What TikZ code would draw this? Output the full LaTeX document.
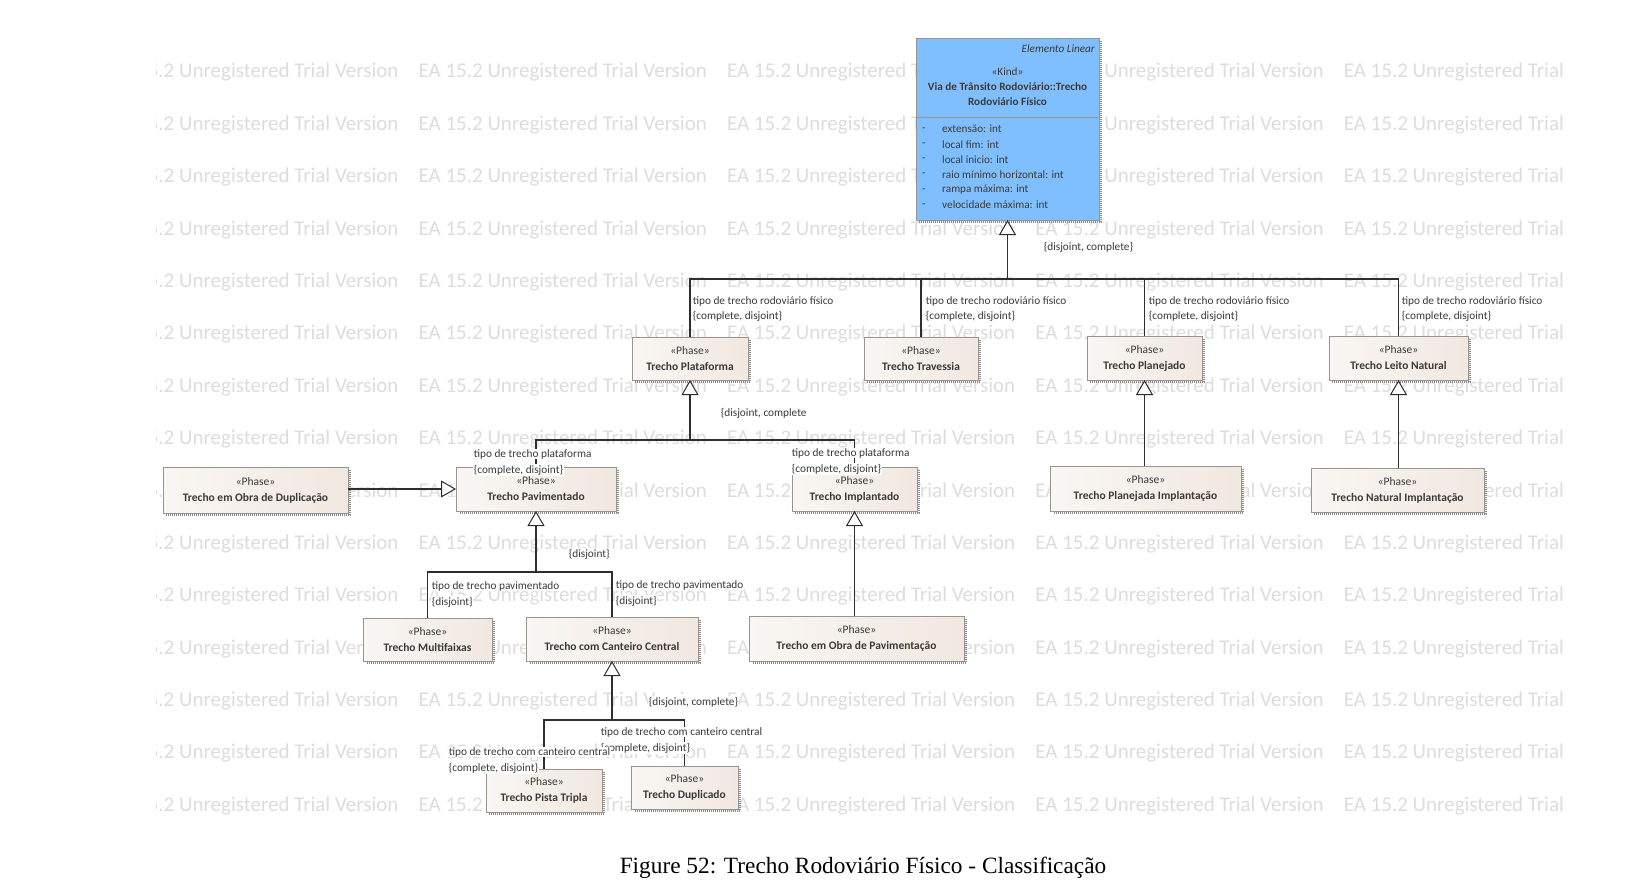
\documentclass[tikz,border=0pt]{standalone}
\usepackage{fontspec}
\setmainfont{Carlito}
\newfontfamily\capfont{Liberation Serif}
\usetikzlibrary{arrows.meta,calc}

\definecolor{kindblue}{HTML}{80BFFF}
\definecolor{phaseA}{HTML}{F9F6F3}
\definecolor{phaseB}{HTML}{F1E8E0}
\definecolor{boxline}{HTML}{9A9490}
\definecolor{ink}{HTML}{3A3A3A}
\definecolor{wire}{HTML}{2E2E2E}
\definecolor{wmark}{HTML}{DDDDDD}

\tikzset{
  wm/.style={anchor=west, inner sep=0pt, text=wmark, font=\fontsize{21}{21}\selectfont},
  phasebox/.style={draw=boxline, line width=0.8pt, left color=phaseA, right color=phaseB,
    inner sep=0pt, outer sep=0pt, align=center, text=ink,
    font=\fontsize{11.5}{16}\selectfont},
  kindbox/.style={draw=boxline, line width=0.8pt, fill=kindblue, inner sep=0pt, outer sep=0pt},
  boxshadow/.style={draw=black!45, line width=2.5pt, dash pattern=on 1pt off 1pt},
  wireline/.style={draw=wire, line width=1.2pt},
  gen/.style={wireline, -{Triangle[length=15pt,width=17pt,fill=white,line width=1pt]}},
  lbl/.style={anchor=west, fill=white, inner sep=0.6pt, text=ink, font=\fontsize{11.3}{11.3}\selectfont},
  kindtxt/.style={inner sep=0pt, text=ink, font=\fontsize{11.2}{15}\selectfont},
}

\begin{document}
\begin{tikzpicture}[x=1pt,y=-1pt]
\useasboundingbox[fill=white] (0,0) rectangle (1652,888);

% background watermark band
\begin{scope}
  \clip (156,40) rectangle (1567,825);
  \foreach \r in {0,...,14} {
    \foreach \c in {0,...,4} {
      \node[wm] (wm-\r-\c) at ({110+308.4*\c},{72.5+52.38*\r}) {EA 15.2 Unregistered Trial Version};
    }
  }
\end{scope}

% classes
\node[kindbox, minimum width=183pt, minimum height=182pt] (main) at (1007.5,129) {};
\node[phasebox, minimum width=116pt, minimum height=43pt] (plat)  at (690,358.5)  {«Phase»\\\textbf{Trecho Plataforma}};
\node[phasebox, minimum width=114pt, minimum height=43pt] (trav)  at (921,358.5)  {«Phase»\\\textbf{Trecho Travessia}};
\node[phasebox, minimum width=115pt, minimum height=44pt] (plan)  at (1144.5,358) {«Phase»\\\textbf{Trecho Planejado}};
\node[phasebox, minimum width=139pt, minimum height=44pt] (leito) at (1398.5,358) {«Phase»\\\textbf{Trecho Leito Natural}};
\node[phasebox, minimum width=185pt, minimum height=46pt] (dup)   at (255.5,490)  {«Phase»\\\textbf{Trecho em Obra de Duplicação}};
\node[phasebox, minimum width=160pt, minimum height=44pt] (pav)   at (536,489)    {«Phase»\\\textbf{Trecho Pavimentado}};
\node[phasebox, minimum width=125pt, minimum height=44pt] (impl)  at (854.5,489)  {«Phase»\\\textbf{Trecho Implantado}};
\node[phasebox, minimum width=191pt, minimum height=45pt] (planimp) at (1145.5,488.5) {«Phase»\\\textbf{Trecho Planejada Implantação}};
\node[phasebox, minimum width=173pt, minimum height=44pt] (natimp)  at (1397.5,490)   {«Phase»\\\textbf{Trecho Natural Implantação}};
\node[phasebox, minimum width=129pt, minimum height=43pt] (multi)  at (427.5,639.5) {«Phase»\\\textbf{Trecho Multifaixas}};
\node[phasebox, minimum width=172pt, minimum height=44pt] (cant)   at (612,639)     {«Phase»\\\textbf{Trecho com Canteiro Central}};
\node[phasebox, minimum width=215pt, minimum height=45pt] (obpav)  at (856.5,638.5) {«Phase»\\\textbf{Trecho em Obra de Pavimentação}};
\node[phasebox, minimum width=116pt, minimum height=43pt] (tripla) at (544,790.5)   {«Phase»\\\textbf{Trecho Pista Tripla}};
\node[phasebox, minimum width=107pt, minimum height=43pt] (duplic) at (684.5,787.5) {«Phase»\\\textbf{Trecho Duplicado}};

% drop shadows
\foreach \n in {main,plat,trav,plan,leito,dup,pav,impl,planimp,natimp,multi,cant,obpav,tripla,duplic} {
  \draw[boxshadow] ($(\n.north east)+(1.8,3)$) -- ($(\n.south east)+(1.8,1.8)$) -- ($(\n.south west)+(3,1.8)$);
}

% kind class compartments
\draw[boxline, line width=0.8pt] (main.west |- 0,117) -- (main.east |- 0,117);
\node[kindtxt, anchor=east, font=\fontsize{11.2}{15}\itshape] (stereo) at (1095,49) {Elemento Linear};
\node[kindtxt] (kindtag) at (1007.5,72) {«Kind»};
\node[kindtxt, align=center, font=\fontsize{11.2}{15}\bfseries] (kindname) at (1007.5,94.5) {Via de Trânsito Rodoviário::Trecho\\Rodoviário Físico};
\foreach \a [count=\i from 0] in {extensão: int, local fim: int, local inicio: int, raio mínimo horizontal: int, rampa máxima: int, velocidade máxima: int} {
  \node[kindtxt, anchor=west] (dash-\i) at (922,{129.5+15.2*\i}) {-};
  \node[kindtxt, anchor=west] (attr-\i) at (942,{129+15.2*\i}) {\a};
}

% generalization set: physical road section
\coordinate (b1) at (main.south |- 0,279);
\draw[gen] (b1) -- (main.south);
\draw[wireline] (plat.north) |- (b1);
\draw[wireline] (trav.north) |- (b1);
\draw[wireline] (plan.north) |- (b1);
\draw[wireline] (leito.north) |- (b1);

% generalization set: platform
\coordinate (b2) at (plat.south |- 0,440);
\draw[gen] (b2) -- (plat.south);
\draw[wireline] (pav.north) |- (b2);
\draw[wireline] (impl.north) |- (b2);

% generalization set: paved
\coordinate (b3) at (pav.south |- 0,572);
\draw[gen] (b3) -- (pav.south);
\draw[wireline] (multi.north) |- (b3);
\draw[wireline] (cant.north) |- (b3);

% generalization set: central median
\coordinate (b4) at (cant.south |- 0,720);
\draw[gen] (b4) -- (cant.south);
\draw[wireline] (tripla.north) |- (b4);
\draw[wireline] (duplic.north) |- (b4);

% single generalizations
\draw[gen] (impl.south |- obpav.north) -- (impl.south);
\draw[gen] (plan.south |- planimp.north) -- (plan.south);
\draw[gen] (leito.south |- natimp.north) -- (leito.south);
\draw[gen] (dup.east |- 0,489) -- (pav.west |- 0,489);

% constraint labels
\node[lbl] (c1) at (1043,247) {\{disjoint, complete\}};
\node[lbl] (c2) at (720,413)  {\{disjoint, complete};
\node[lbl] (c3) at (568,554)  {\{disjoint\}};
\node[lbl] (c4) at (648,702)  {\{disjoint, complete\}};

% role labels
\foreach \n/\x in {plat/692, trav/925, plan/1148, leito/1401} {
  \node[lbl] (\n-r1) at (\x,301) {tipo de trecho rodoviário físico};
  \node[lbl] (\n-r2) at (\x,316) {\{complete, disjoint\}};
}
\node[lbl] (pav-r1)  at (473,454) {tipo de trecho plataforma};
\node[lbl] (pav-r2)  at (473,470) {\{complete, disjoint\}};
\node[lbl] (impl-r1) at (791,453) {tipo de trecho plataforma};
\node[lbl] (impl-r2) at (791,469) {\{complete, disjoint\}};
\node[lbl] (multi-r1) at (431,586) {tipo de trecho pavimentado};
\node[lbl] (multi-r2) at (431,602) {\{disjoint\}};
\node[lbl] (cant-r1)  at (615,585) {tipo de trecho pavimentado};
\node[lbl] (cant-r2)  at (615,601) {\{disjoint\}};
\node[lbl] (duplic-r1) at (600,732) {tipo de trecho com canteiro central};
\node[lbl] (duplic-r2) at (600,748) {\{complete, disjoint\}};
\node[lbl] (tripla-r1) at (448,752) {tipo de trecho com canteiro central};
\node[lbl] (tripla-r2) at (448,768) {\{complete, disjoint\}};

% caption
\node[inner sep=0pt, font=\capfont\fontsize{23.3}{23.3}\selectfont] (caption) at (863,868) {Figure 52: Trecho Rodoviário Físico - Classificação};
\end{tikzpicture}
\end{document}
